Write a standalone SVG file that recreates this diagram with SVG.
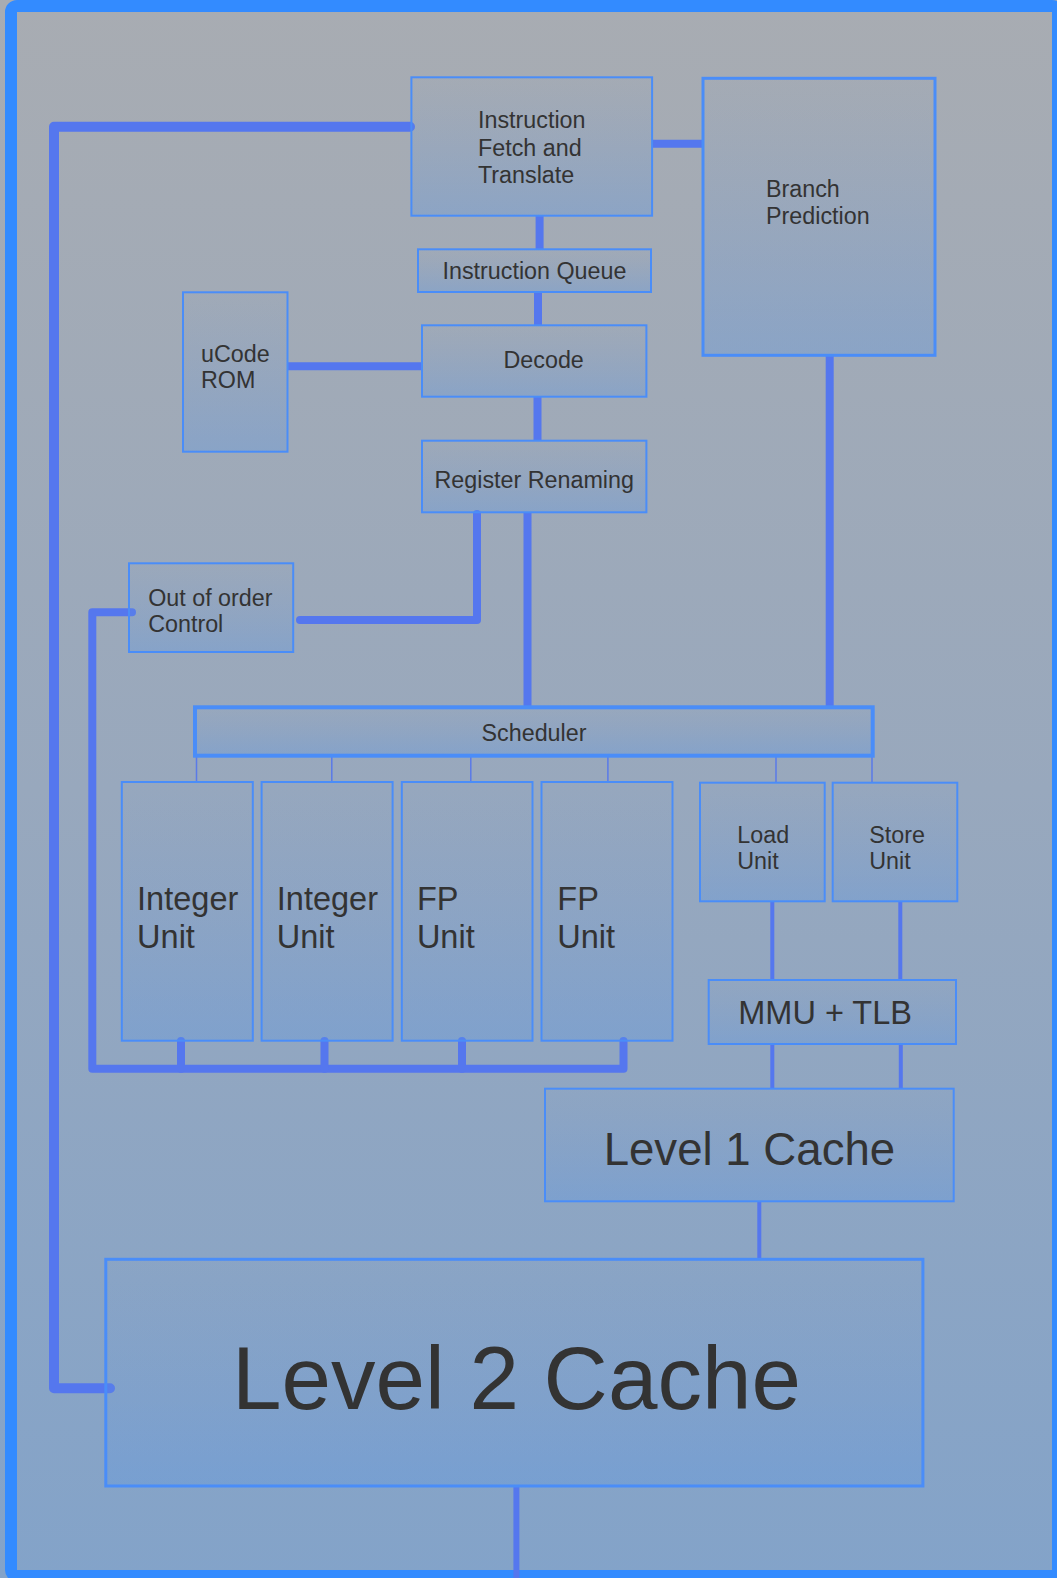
<svg xmlns="http://www.w3.org/2000/svg" width="1057" height="1578" viewBox="0 0 1057 1578">
<defs>
<linearGradient id="bg" x1="0" y1="0" x2="0" y2="1">
<stop offset="0" stop-color="#a8acb2"/>
<stop offset="0.5" stop-color="#98a8bd"/>
<stop offset="1" stop-color="#83a3c9"/>
</linearGradient>
<linearGradient id="nf" x1="0" y1="0" x2="0" y2="1">
<stop offset="0" stop-color="#6e96d2" stop-opacity="0.04"/>
<stop offset="1" stop-color="#5a96e6" stop-opacity="0.32"/>
</linearGradient>
<style>
.n{fill:url(#nf);stroke:#4a8df8;stroke-width:2}
.t{font-family:"Liberation Sans",Arial,sans-serif;fill:#333;font-size:23.3px}
.b{font-size:32.5px}
.c{fill:none;stroke:#5577ee;stroke-width:8;stroke-linecap:round;stroke-linejoin:round}
.s{stroke-linecap:butt}
.thin{fill:none;stroke:#5a7ae8;stroke-width:1.5}
.med{fill:none;stroke:#5577ee;stroke-width:4}
</style>
</defs>
<rect x="0" y="0" width="1057" height="1578" fill="url(#bg)"/>
<rect x="11" y="6" width="1047" height="1570" rx="6" fill="none" stroke="#338bff" stroke-width="12"/>

<g id="connectors">
<path class="c" d="M410,126.7 H54 V1388.3 H110" style="stroke-width:10"/>
<path class="c s" d="M652,143.7 H703"/>
<path class="c s" d="M539.6,215.7 V249.3"/>
<path class="c s" d="M538,292 V325.3"/>
<path class="c s" d="M287.5,366.3 H422"/>
<path class="c s" d="M537.5,396.7 V440.7"/>
<path class="c" d="M477,514 V620 H300"/>
<path class="c s" d="M527.5,512.3 V707"/>
<path class="c s" d="M829.7,355.3 V707"/>
<path class="c" d="M132,612.3 H92.3 V1068.8 H623.5 V1041"/>
<path class="c" d="M181,1041 V1068.8 M324.5,1041 V1068.8 M462,1041 V1068.8"/>
<path class="thin" d="M196.5,756 V782 M331.8,756 V782 M470.8,756 V782 M607.9,756 V782 M776,756 V782.7 M872,756 V782.7"/>
<path class="med" d="M772.3,901.3 V980 M900.3,901.3 V980 M772.3,1044 V1088.7 M900.8,1044 V1088.7 M759.3,1201.3 V1259.3"/>
<path class="c s" d="M516.4,1486 V1590" style="stroke-width:6"/>
</g>

<g id="fetch">
<rect class="n" x="411.4" y="77.3" width="240.7" height="138.4"/>
<text class="t" x="478" y="128.3">Instruction</text>
<text class="t" x="478" y="155.5">Fetch and</text>
<text class="t" x="478" y="182.7">Translate</text>
</g>
<g id="branch">
<rect class="n" x="703" y="78.3" width="232" height="277" style="stroke-width:3"/>
<text class="t" x="766" y="197.3">Branch</text>
<text class="t" x="766" y="224">Prediction</text>
</g>
<g id="queue">
<rect class="n" x="418" y="249.3" width="233" height="42.7"/>
<text class="t" x="534.5" y="279" text-anchor="middle">Instruction Queue</text>
</g>
<g id="ucode">
<rect class="n" x="183" y="292.3" width="104.5" height="159.4"/>
<text class="t" x="201" y="361.7">uCode</text>
<text class="t" x="201" y="388.3">ROM</text>
</g>
<g id="decode">
<rect class="n" x="422" y="325.3" width="224.4" height="71.4"/>
<text class="t" x="503.5" y="368.3">Decode</text>
</g>
<g id="rename">
<rect class="n" x="422" y="440.7" width="224.4" height="71.6"/>
<text class="t" x="534.2" y="488.3" text-anchor="middle">Register Renaming</text>
</g>
<g id="ooo">
<rect class="n" x="129" y="563.3" width="164.2" height="88.7"/>
<text class="t" x="148.2" y="606">Out of order</text>
<text class="t" x="148.2" y="632.3">Control</text>
</g>
<g id="scheduler">
<rect class="n" x="195" y="707.3" width="677.7" height="48.4" style="stroke-width:4"/>
<text class="t" x="534" y="740.7" text-anchor="middle">Scheduler</text>
</g>
<g id="int1">
<rect class="n" x="121.8" y="782" width="131" height="258.7"/>
<text class="t b" x="137.1" y="910">Integer</text>
<text class="t b" x="137.1" y="948.3">Unit</text>
</g>
<g id="int2">
<rect class="n" x="261.6" y="782" width="131" height="258.7"/>
<text class="t b" x="276.8" y="910">Integer</text>
<text class="t b" x="276.8" y="948.3">Unit</text>
</g>
<g id="fp1">
<rect class="n" x="401.8" y="782" width="130.7" height="258.7"/>
<text class="t b" x="416.9" y="910">FP</text>
<text class="t b" x="416.9" y="948.3">Unit</text>
</g>
<g id="fp2">
<rect class="n" x="541.5" y="782" width="131" height="258.7"/>
<text class="t b" x="557.3" y="910">FP</text>
<text class="t b" x="557.3" y="948.3">Unit</text>
</g>
<g id="load">
<rect class="n" x="700" y="782.7" width="124.7" height="118.6"/>
<text class="t" x="737.3" y="842.7">Load</text>
<text class="t" x="737.3" y="869.3">Unit</text>
</g>
<g id="store">
<rect class="n" x="832.7" y="782.7" width="124.6" height="118.6"/>
<text class="t" x="869.3" y="842.7">Store</text>
<text class="t" x="869.3" y="869.3">Unit</text>
</g>
<g id="mmu">
<rect class="n" x="708.7" y="980" width="247.3" height="64"/>
<text class="t b" x="738.3" y="1024">MMU + TLB</text>
</g>
<g id="l1">
<rect class="n" x="545" y="1088.7" width="408.7" height="112.6"/>
<text class="t" x="749.4" y="1165" text-anchor="middle" style="font-size:45.6px">Level 1 Cache</text>
</g>
<g id="l2">
<rect class="n" x="105.8" y="1259.3" width="817.1" height="226.7" style="stroke-width:3"/>
<text class="t" x="516.4" y="1409" text-anchor="middle" style="font-size:89px">Level 2 Cache</text>
</g>
</svg>
